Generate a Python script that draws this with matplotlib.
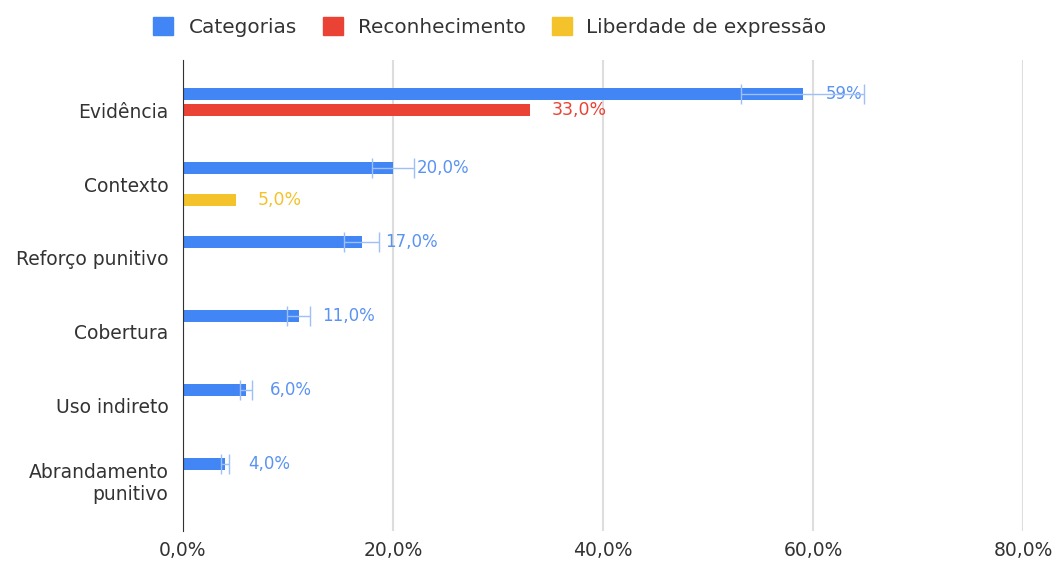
import numpy as np
import matplotlib.pyplot as plt
from matplotlib.patches import Patch

plt.rcParams['font.family'] = ['DejaVu Sans']

# Data
categorias = ["Evidência", "Contexto", "Reforço punitivo", "Cobertura",
              "Uso indireto", "Abrandamento\npunitivo"]
series_names = ["Categorias", "Reconhecimento", "Liberdade de expressão"]
val_categorias = [59, 20, 17, 11, 6, 4]
lbl_categorias = ["59%", "20,0%", "17,0%", "11,0%", "6,0%", "4,0%"]
err_categorias = [5.9, 2.0, 1.7, 1.1, 0.6, 0.4]
val_reconhecimento = [33, 0, 0, 0, 0, 0]
lbl_reconhecimento = ["33,0%", "", "", "", "", ""]
val_liberdade = [0, 5, 0, 0, 0, 0]
lbl_liberdade = ["", "5,0%", "", "", "", ""]
xticks = [0, 20, 40, 60, 80]
xtick_labels = ["0,0%", "20,0%", "40,0%", "60,0%", "80,0%"]

blue = "#4285F4"
red = "#EA4335"
yellow = "#F4C22B"
err_color = "#9ec0f9"

fig = plt.figure(figsize=(10.57, 5.63), dpi=100)
ax = fig.add_axes([183 / 1057, 1 - 531 / 563, 840 / 1057, 471 / 563])

y = np.arange(len(categorias))
off = 0.216
h = 0.15

ax.barh(y - off, val_categorias, height=h, color=blue, zorder=3)
ax.errorbar(val_categorias, y - off, xerr=err_categorias, fmt="none",
            ecolor=err_color, elinewidth=1, capsize=7, capthick=1, zorder=4)
ax.barh(y, val_reconhecimento, height=h, color=red, zorder=3)
ax.barh(y + off, val_liberdade, height=h, color=yellow, zorder=3)

for yy, v, t in zip(y - off, val_categorias, lbl_categorias):
    ax.annotate(t, (v, yy), xytext=(17, 0), textcoords="offset points",
                va="center", ha="left", color="#5a93f2", fontsize=12)
for yy, v, t in zip(y, val_reconhecimento, lbl_reconhecimento):
    if t:
        ax.annotate(t, (v, yy), xytext=(16, 0), textcoords="offset points",
                    va="center", ha="left", color=red, fontsize=12.5)
for yy, v, t in zip(y + off, val_liberdade, lbl_liberdade):
    if t:
        ax.annotate(t, (v, yy), xytext=(16, 0), textcoords="offset points",
                    va="center", ha="left", color=yellow, fontsize=12.5)

ax.set_xlim(0, 80)
ax.set_ylim(5.69, -0.676)
ax.set_xticks(xticks)
ax.set_xticklabels(xtick_labels)
ax.set_yticks(y)
ax.set_yticklabels(categorias, ha="right")
ax.tick_params(axis="both", length=0, labelsize=13.5, colors="#333333")
ax.tick_params(axis="y", pad=10.5)
ax.tick_params(axis="x", pad=7)
ax.grid(axis="x", color="#dddddd", lw=1.5, zorder=0)
for s in ["top", "right", "bottom"]:
    ax.spines[s].set_visible(False)
ax.spines["left"].set_color("#333333")
ax.spines["left"].set_zorder(5)

handles = [Patch(facecolor=c, edgecolor=c) for c in (blue, red, yellow)]
fig.legend(handles, series_names, loc="center", bbox_to_anchor=(490 / 1057, 1 - 27 / 563),
           ncol=3, frameon=False, fontsize=14.4, handlelength=1.0, handleheight=1.0,
           handletextpad=0.75, columnspacing=1.3, labelcolor="#333333")

fig.savefig("out.png", dpi=100)
